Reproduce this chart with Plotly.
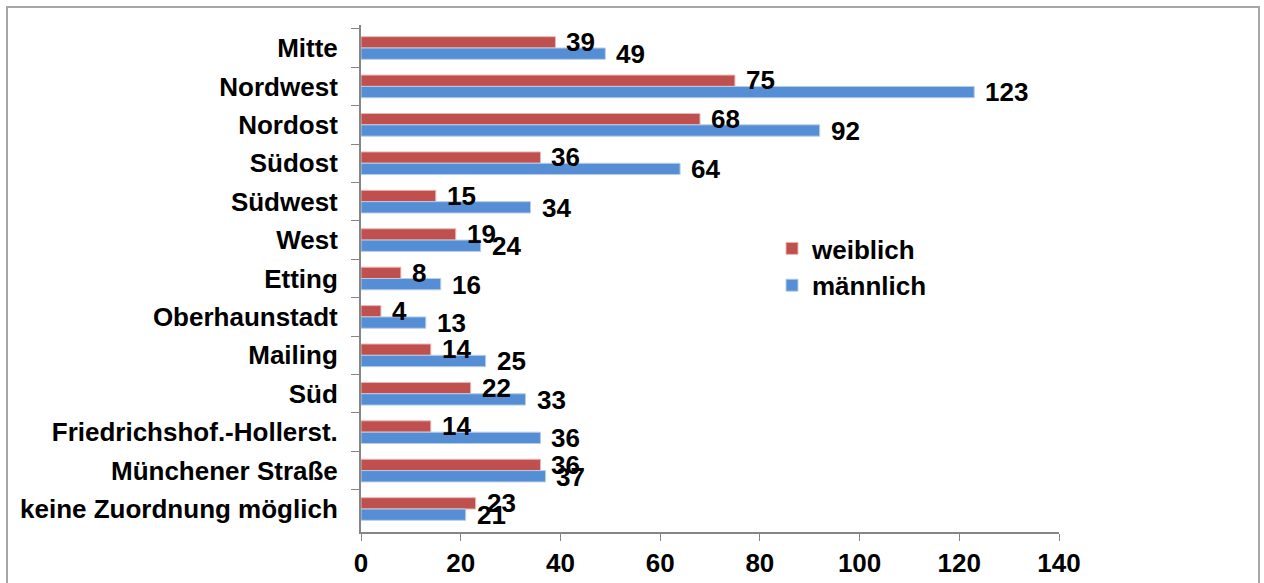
import plotly.graph_objects as go

categories = ["Mitte", "Nordwest", "Nordost", "Südost", "Südwest", "West", "Etting",
              "Oberhaunstadt", "Mailing", "Süd", "Friedrichshof.-Hollerst.",
              "Münchener Straße", "keine Zuordnung möglich"]
weiblich = [39, 75, 68, 36, 15, 19, 8, 4, 14, 22, 14, 36, 23]
maennlich = [49, 123, 92, 64, 34, 24, 16, 13, 25, 33, 36, 37, 21]
x_ticks = [0, 20, 40, 60, 80, 100, 120, 140]

FONT = "Arial, Liberation Sans, sans-serif"
FS = 26
RED = "#C0504D"
BLUE = "#558ED5"

fig = go.Figure()
fig.add_trace(go.Bar(y=categories, x=weiblich, orientation="h", name="weiblich",
                     marker=dict(color=RED, line=dict(color="#E6B9B8", width=1)),
                     legendgroup="w"))
fig.add_trace(go.Bar(y=categories, x=maennlich, orientation="h", name="männlich",
                     marker=dict(color=BLUE, line=dict(color="#B9CDE5", width=1)),
                     legendgroup="m"))

annotations = []
for c, v in zip(categories, weiblich):
    annotations.append(dict(x=v, y=c, xref="x", yref="y", text=str(v), showarrow=False,
                            xanchor="left", yanchor="middle", xshift=9, yshift=6,
                            font=dict(family=FONT, size=FS, color="black", weight="bold")))
for c, v in zip(categories, maennlich):
    annotations.append(dict(x=v, y=c, xref="x", yref="y", text=str(v), showarrow=False,
                            xanchor="left", yanchor="middle", xshift=9, yshift=-6,
                            font=dict(family=FONT, size=FS, color="black", weight="bold")))

W, H = 1264, 583
L, R, T, B = 361, 1059, 25, 532
pw, ph = R - L, B - T

def px(xp):
    return (xp - L) / pw

def py(yp):
    return (B - yp) / ph

fig.update_layout(
    width=W, height=H,
    margin=dict(l=L, r=W - R, t=T, b=H - B, pad=0, autoexpand=False),
    paper_bgcolor="white", plot_bgcolor="white",
    barmode="group", bargap=0.41, bargroupgap=0,
    font=dict(family=FONT, size=FS, color="black", weight="bold"),
    showlegend=True,
    legend=dict(x=px(772), y=py(225), xanchor="left", yanchor="top",
                bgcolor="rgba(0,0,0,0)", traceorder="grouped", tracegroupgap=0,
                font=dict(family=FONT, size=FS, color="black", weight="bold")),
    xaxis=dict(range=[0, 140], tickvals=x_ticks, showgrid=False, zeroline=False,
               automargin=False,
               showline=True, linecolor="#868686", linewidth=2,
               ticks="outside", ticklen=7, tickcolor="#868686", tickwidth=1,
               tickfont=dict(family=FONT, size=FS, color="black", weight="bold")),
    yaxis=dict(autorange="reversed", type="category", showgrid=False, zeroline=False,
               automargin=False,
               showline=True, linecolor="#868686", linewidth=2,
               ticks="outside", ticklen=8, tickcolor="#868686", tickwidth=1,
               tickson="boundaries", ticklabelstandoff=16,
               tickfont=dict(family=FONT, size=FS, color="black", weight="bold")),
    annotations=annotations,
    shapes=[dict(type="rect", xref="paper", yref="paper",
                 x0=px(7), x1=px(1259), y0=py(600), y1=py(7),
                 line=dict(color="#A6A6A6", width=2), fillcolor="rgba(0,0,0,0)",
                 layer="below")],
)

fig.write_html("out.html")
